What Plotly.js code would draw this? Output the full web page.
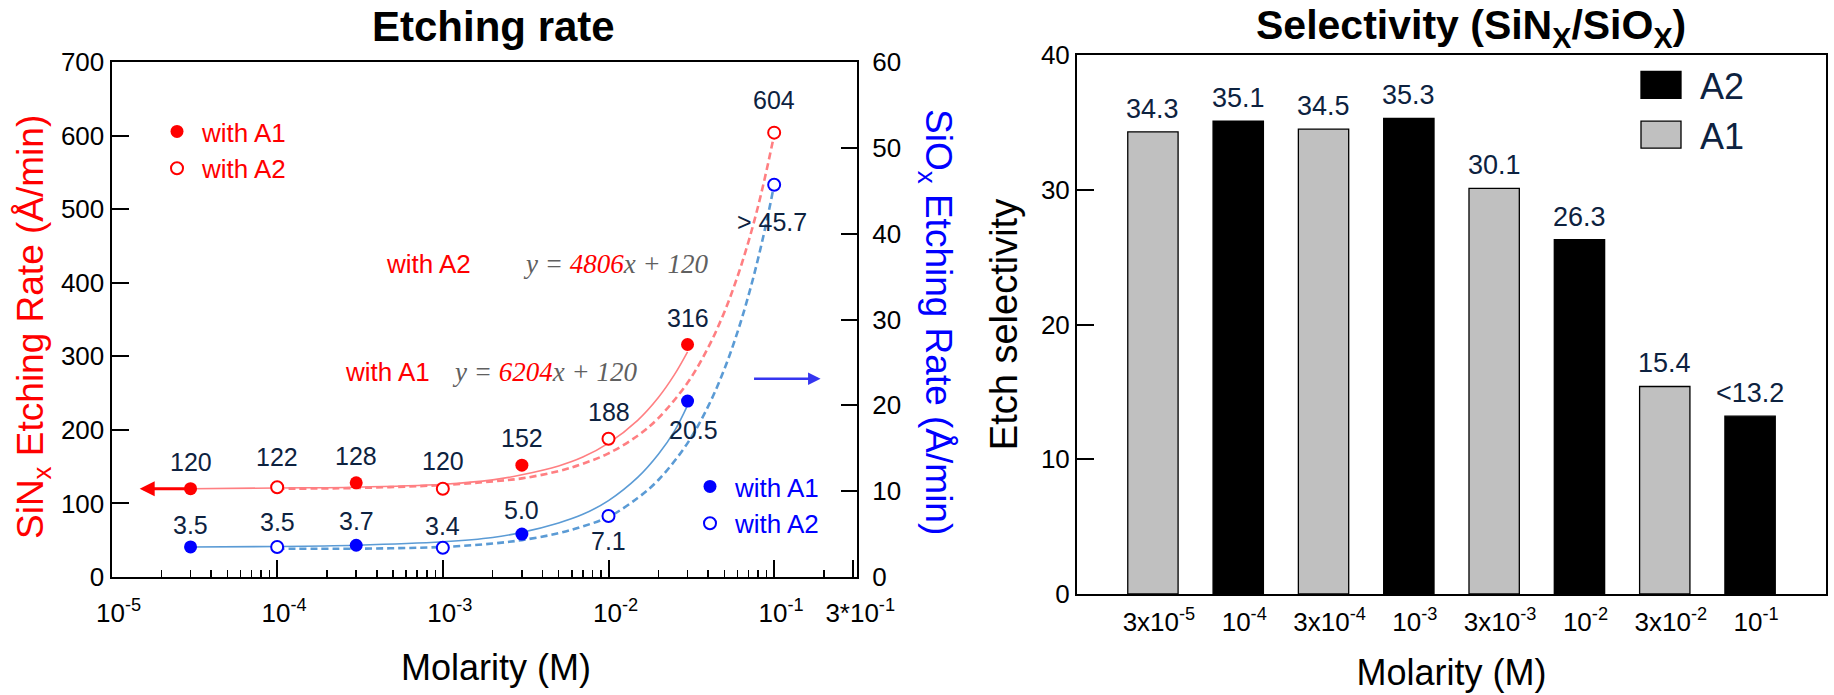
<!DOCTYPE html>
<html>
<head>
<meta charset="utf-8">
<script src="https://cdn.plot.ly/plotly-3.0.1.min.js"></script>
<style>
html,body{margin:0;padding:0;background:#ffffff;}
#chart{width:1834px;height:695px;}
</style>
</head>
<body>
<div id="chart"></div>
<script>
// ================= DATA: Etching rate =================
const molA1 = [3e-5, 3e-4, 3e-3, 3e-2];          // molarity of A1 samples (M)
const molA2 = [1e-4, 1e-3, 1e-2, 1e-1];          // molarity of A2 samples (M)
const sinA1 = [120, 128, 152, 316];              // SiNx etch rate, A1 (Å/min)
const sinA2 = [122, 120, 188, 604];              // SiNx etch rate, A2 (Å/min)
const sioA1 = [3.5, 3.7, 5.0, 20.5];             // SiOx etch rate, A1 (Å/min)
const sioA2 = [3.5, 3.4, 7.1, 45.7];             // SiOx etch rate, A2 (Å/min)
const sioA2Prefix = ['', '', '', '> '];

// fitted trend curves
const fitA1X   = [3e-5, 1e-4, 3e-4, 1e-3, 2e-3, 3e-3, 5e-3, 7e-3, 1e-2, 1.5e-2, 2e-2, 2.5e-2, 3e-2];
const sinFitA1 = [120, 121, 122, 126, 132, 139, 151, 163, 182, 213, 244, 275, 306];
const sioFitA1 = [3.5, 3.55, 3.7, 4.1, 4.6, 5.2, 6.3, 7.3, 8.9, 11.6, 14.3, 17.0, 20.0];
const fitA2X   = [1e-4, 3e-4, 1e-3, 2e-3, 3e-3, 5e-3, 7e-3, 1e-2, 1.5e-2, 2e-2, 3e-2, 4e-2, 5e-2, 6e-2, 7e-2, 8e-2, 9e-2, 1e-1];
const sinFitA2 = [120, 121, 125, 130, 134, 144, 154, 168, 192, 216, 264, 312, 360, 408, 456, 504, 553, 601];
const sioFitA2 = [3.3, 3.3, 3.5, 3.9, 4.3, 5.1, 5.9, 7.0, 9.2, 11.3, 15.6, 19.9, 24.2, 28.5, 32.8, 37.1, 41.4, 45.7];

// fit equations
const eqA1 = {label: 'with A1', slope: '6204', intercept: '120'};
const eqA2 = {label: 'with A2', slope: '4806', intercept: '120'};

// x tick labels (log axis)
const xTickVals = [1e-5, 1e-4, 1e-3, 1e-2, 1e-1, 3e-1];
const xTickText = ['10<sup>-5</sup>', '10<sup>-4</sup>', '10<sup>-3</sup>', '10<sup>-2</sup>', '10<sup>-1</sup>', '3*10<sup>-1</sup>'];

// ================= DATA: Selectivity =================
const selCats   = ['3x10<sup>-5</sup>', '10<sup>-4</sup>', '3x10<sup>-4</sup>', '10<sup>-3</sup>', '3x10<sup>-3</sup>', '10<sup>-2</sup>', '3x10<sup>-2</sup>', '10<sup>-1</sup>'];
const selValues = [34.3, 35.1, 34.5, 35.3, 30.1, 26.3, 15.4, 13.2];
const selGroup  = ['A1', 'A2', 'A1', 'A2', 'A1', 'A2', 'A1', 'A2'];
const selPrefix = ['', '', '', '', '', '', '', '<'];

// ================= STYLE / GEOMETRY =================
const W = 1834, H = 695;
const px = v => v / W;
const py = v => 1 - v / H;
const FONT = 'Liberation Sans, Arial, sans-serif';
const SERIF = 'Liberation Serif, Times New Roman, serif';
const NAVY = '#0d2240';
const RED = '#ff0000', BLUE = '#0000ff';
const RED_FIT = '#ff7f82', BLUE_FIT = '#5b9bd5';
const L = {x0: 111.5, x1: 857, y0: 62, y1: 577};
const R = {x0: 1077, x1: 1826, y0: 55, y1: 594};

// minor ticks for the log axis (axis decoration)
const minorVals = [];
for (let e = -5; e <= -1; e++) for (let m = 2; m <= 9; m++) {
  const v = m * Math.pow(10, e);
  if (v < 0.31 && !(e === -1 && m === 3)) minorVals.push(v);
}

const traces = [];
// fit curves
traces.push({x: fitA1X, y: sinFitA1, xaxis: 'x', yaxis: 'y', mode: 'lines', line: {color: RED_FIT, width: 1.6, shape: 'spline'}, showlegend: false, hoverinfo: 'skip'});
traces.push({x: fitA2X, y: sinFitA2, xaxis: 'x', yaxis: 'y', mode: 'lines', line: {color: RED_FIT, width: 2.6, dash: '7px,4px', shape: 'spline'}, showlegend: false, hoverinfo: 'skip'});
traces.push({x: fitA1X, y: sioFitA1, xaxis: 'x', yaxis: 'y2', mode: 'lines', line: {color: BLUE_FIT, width: 1.6, shape: 'spline'}, showlegend: false, hoverinfo: 'skip'});
traces.push({x: fitA2X, y: sioFitA2, xaxis: 'x', yaxis: 'y2', mode: 'lines', line: {color: BLUE_FIT, width: 2.6, dash: '7px,4px', shape: 'spline'}, showlegend: false, hoverinfo: 'skip'});
// markers
traces.push({x: molA1, y: sinA1, xaxis: 'x', yaxis: 'y', mode: 'markers', name: 'with A1', legend: 'legend2',
  marker: {symbol: 'circle', size: 13, color: RED, line: {width: 0}}});
traces.push({x: molA2, y: sinA2, xaxis: 'x', yaxis: 'y', mode: 'markers', name: 'with A2', legend: 'legend2',
  marker: {symbol: 'circle', size: 12, color: '#ffffff', line: {width: 2, color: RED}}});
traces.push({x: molA1, y: sioA1, xaxis: 'x', yaxis: 'y2', mode: 'markers', name: 'with A1', legend: 'legend3',
  marker: {symbol: 'circle', size: 13, color: BLUE, line: {width: 0}}});
traces.push({x: molA2, y: sioA2, xaxis: 'x', yaxis: 'y2', mode: 'markers', name: 'with A2', legend: 'legend3',
  marker: {symbol: 'circle', size: 12, color: '#ffffff', line: {width: 2, color: BLUE}}});

// bars (A2 first so that it is listed first in the legend)
['A2', 'A1'].forEach(g => {
  const idx = selGroup.map((v, i) => v === g ? i : -1).filter(i => i >= 0);
  traces.push({
    type: 'bar', xaxis: 'x3', yaxis: 'y3', name: g, legend: 'legend',
    x: idx.map(i => selCats[i]), y: idx.map(i => selValues[i]),
    width: 0.59,
    marker: {color: g === 'A2' ? '#000000' : '#c0c0c0', line: {color: '#000000', width: 1.3}},
    hoverinfo: 'skip'
  });
});

const annotations = [];
const lbl = (x, y, yref, text, yshift, xshift) => ({
  x: Math.log10(x), y: y, xref: 'x', yref: yref, text: text, showarrow: false,
  xanchor: 'center', yanchor: 'middle',
  yshift: yshift, xshift: xshift || 0, font: {family: FONT, size: 25, color: NAVY}
});
sinA1.forEach((v, i) => annotations.push(lbl(molA1[i], v, 'y', String(v), 27)));
sinA2.forEach((v, i) => annotations.push(lbl(molA2[i], v, 'y', String(v), [30, 28, 27, 33][i])));
const sioA1Shift = [22, 24, 24, -29], sioA2Shift = [25, 22, -25, -37];
sioA1.forEach((v, i) => annotations.push(lbl(molA1[i], v, 'y2', v.toFixed(1), sioA1Shift[i], i === 3 ? 6 : 0)));
sioA2.forEach((v, i) => annotations.push(lbl(molA2[i], v, 'y2', sioA2Prefix[i] + v.toFixed(1), sioA2Shift[i], i === 3 ? -2 : 0)));

const paperText = (x, y, text, font, angle) => ({x: px(x), y: py(y), xref: 'paper', yref: 'paper', text: text,
  showarrow: false, xanchor: 'center', yanchor: 'middle', font: font, textangle: angle || 0});

// equations and their labels
[[eqA2, 428, 615, 264], [eqA1, 387, 544, 372]].forEach(([eq, lx, ex, ey]) => {
  annotations.push(paperText(lx, ey, eq.label, {family: FONT, size: 26, color: RED}));
  annotations.push(paperText(ex, ey, '<i>y = <span style="color:#ff0000">' + eq.slope + '</span>x + ' + eq.intercept + '</i>',
    {family: SERIF, size: 27, color: '#606060'}));
});

// axis indicator arrows
annotations.push({x: -4.83, y: sinA1[0], xref: 'x', yref: 'y', ax: 48, ay: 0, text: '', showarrow: true,
  arrowhead: 2, arrowsize: 1, arrowwidth: 3, arrowcolor: RED});
annotations.push({x: -0.72, y: 23.1, xref: 'x', yref: 'y2', ax: -68, ay: 0, text: '', showarrow: true,
  arrowhead: 2, arrowsize: 1, arrowwidth: 2.5, arrowcolor: '#3535f0'});

// bar value labels
selValues.forEach((v, i) => annotations.push({
  x: selCats[i], y: v, xref: 'x3', yref: 'y3', text: selPrefix[i] + v.toFixed(1), showarrow: false,
  xanchor: 'center', yanchor: 'bottom', yshift: 6, font: {family: FONT, size: 27, color: NAVY}
}));

// subplot titles
annotations.push(paperText(494, 26, '<b>Etching rate</b>', {family: FONT, size: 42, color: '#000000'}));
annotations.push(paperText(1471, 28, '<b>Selectivity (SiN<sub>X</sub>/SiO<sub>X</sub>)</b>', {family: FONT, size: 41, color: '#000000'}));

// axis titles of the etching-rate panel (placed as in the reference)
annotations.push(paperText(33, 327, 'SiN<sub>x</sub> Etching Rate (Å/min)', {family: FONT, size: 37, color: RED}, -90));
annotations.push(paperText(936, 322, 'SiO<sub>x</sub> Etching Rate (Å/min)', {family: FONT, size: 37, color: BLUE}, 90));
annotations.push(paperText(496, 667, 'Molarity (M)', {family: FONT, size: 36, color: '#000000'}));

const tickFont = {family: FONT, size: 26, color: '#000000'};

const layout = {
  width: W, height: H,
  margin: {l: 0, r: 0, t: 0, b: 0},
  paper_bgcolor: '#ffffff', plot_bgcolor: '#ffffff',
  font: {family: FONT},
  barmode: 'overlay',
  showlegend: true,
  xaxis: {
    type: 'log', domain: [px(L.x0), px(L.x1)], range: [-5, -0.5], anchor: 'y',
    tickmode: 'array', tickvals: xTickVals, ticktext: xTickText,
    ticks: 'inside', ticklen: 17, tickwidth: 2, tickcolor: '#000',
    minor: {tickmode: 'array', tickvals: minorVals, ticks: 'inside', ticklen: 7, tickwidth: 1.5, tickcolor: '#000', showgrid: false},
    showline: true, linewidth: 2, linecolor: '#000', mirror: true, showgrid: false, zeroline: false,
    tickfont: tickFont, ticklabelstandoff: 12, ticklabelshift: 7
  },
  yaxis: {
    domain: [py(L.y1), py(L.y0)], range: [0, 700], dtick: 100, anchor: 'x',
    ticks: 'inside', ticklen: 17, tickwidth: 2, tickcolor: '#000',
    showline: true, linewidth: 2, linecolor: '#000', showgrid: false, zeroline: false,
    tickfont: tickFont, ticklabelstandoff: 0
  },
  yaxis2: {
    overlaying: 'y', side: 'right', range: [0, 60], dtick: 10, anchor: 'x',
    ticks: 'inside', ticklen: 16, tickwidth: 2, tickcolor: '#000',
    showline: true, linewidth: 2, linecolor: '#000', showgrid: false, zeroline: false,
    tickfont: tickFont, ticklabelstandoff: 8
  },
  xaxis3: {
    domain: [px(R.x0), px(R.x1)], range: [-0.89, 7.89], anchor: 'y3',
    type: 'category', categoryorder: 'array', categoryarray: selCats,
    ticks: '', showline: true, linewidth: 2, linecolor: '#000', mirror: true, showgrid: false, zeroline: false,
    tickfont: tickFont, ticklabelstandoff: 4, ticklabelshift: 6,
    title: {text: 'Molarity (M)', font: {family: FONT, size: 36, color: '#000000'}, standoff: 24}
  },
  yaxis3: {
    domain: [py(R.y1), py(R.y0)], range: [0, 40], dtick: 10, anchor: 'x3',
    ticks: 'inside', ticklen: 17, tickwidth: 2, tickcolor: '#000',
    showline: true, linewidth: 2, linecolor: '#000', mirror: true, showgrid: false, zeroline: false,
    tickfont: tickFont, ticklabelstandoff: 0,
    title: {text: 'Etch selectivity', font: {family: FONT, size: 38, color: '#000000'}, standoff: 12}
  },
  legend: {
    x: px(1622), y: py(55), xanchor: 'left', yanchor: 'top', bgcolor: 'rgba(0,0,0,0)',
    font: {family: FONT, size: 36, color: NAVY}, itemwidth: 68, traceorder: 'normal', tracegroupgap: 0
  },
  legend2: {
    x: px(152), y: py(108), xanchor: 'left', yanchor: 'top', bgcolor: 'rgba(0,0,0,0)',
    font: {family: FONT, size: 26, color: RED}, itemwidth: 40, traceorder: 'normal'
  },
  legend3: {
    x: px(685), y: py(463), xanchor: 'left', yanchor: 'top', bgcolor: 'rgba(0,0,0,0)',
    font: {family: FONT, size: 26, color: BLUE}, itemwidth: 40, traceorder: 'normal'
  },
  annotations: annotations
};

Plotly.newPlot('chart', traces, layout, {displayModeBar: false, staticPlot: true}).then(gd => {
  // enlarge the bar legend keys to match the large square swatches
  gd.querySelectorAll('g.legend .legendpoints path').forEach(p => {
    if (p.getAttribute('d')) p.setAttribute('d', 'M20,13.5H-20V-13.5H20Z');
  });
});
</script>
</body>
</html>
